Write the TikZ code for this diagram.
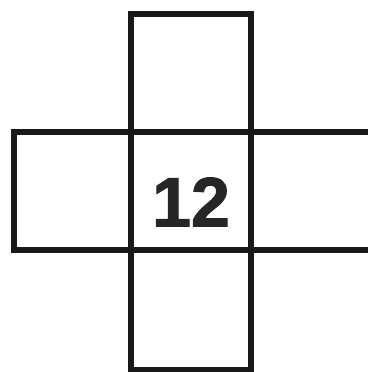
\documentclass[tikz,border=0pt]{standalone}
\usepackage{fontspec}
\setmainfont{Liberation Sans}
\newfontfamily\heavyfont[BoldFeatures={FakeBold=1.5}]{Liberation Sans}
\begin{document}
\begin{tikzpicture}[x=1pt,y=1pt,
  cell/.style={draw=black!90, line width=5.5pt},
  num/.style={font=\heavyfont\bfseries\fontsize{70}{70}\selectfont, text=black!85, inner sep=0pt}]
\useasboundingbox (0,0) rectangle (367,372);
% pixel y -> 372 - y
\draw[cell] (131,240) rectangle (251,358);   % top
\draw[cell] (14,122) rectangle (131,240);    % left
\draw[cell] (251,122) rectangle (375,240);   % right
\draw[cell] (131,2) rectangle (251,122);     % bottom
\draw[cell] (131,122) rectangle (251,240);   % centre
\node[num] (c) at (191,170) {12};
\end{tikzpicture}
\end{document}
